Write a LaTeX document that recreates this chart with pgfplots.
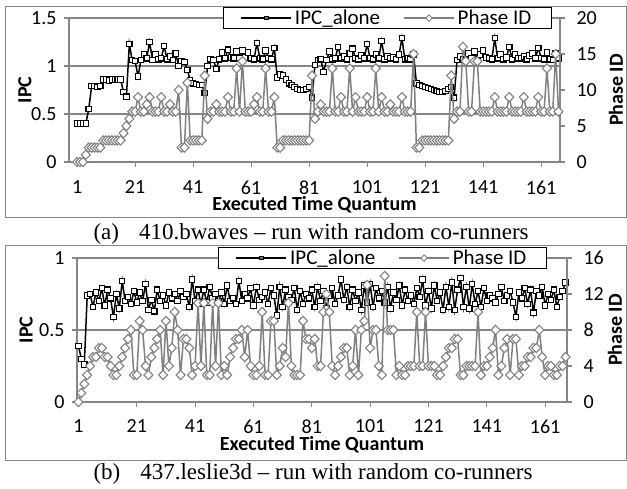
\documentclass[border=0pt]{standalone}
\usepackage{pgfplots}
\pgfplotsset{compat=1.18}
\usepackage{pgfplotstable}
\usepackage{fontspec}
\setmainfont{Carlito}
\newfontfamily\capfont{Liberation Serif}

\definecolor{axgray}{HTML}{868686}
\definecolor{phgray}{HTML}{808080}

% panel (a)
\pgfplotstableread[row sep=\\]{x y\\
1 0.40\\ 2 0.40\\ 3 0.40\\ 4 0.40\\ 5 0.55\\ 6 0.79\\ 7 0.79\\ 8 0.78\\ 9 0.79\\ 10 0.86\\
11 0.86\\ 12 0.85\\ 13 0.86\\ 14 0.86\\ 15 0.86\\ 16 0.86\\ 17 0.73\\ 18 0.68\\ 19 1.23\\ 20 1.06\\
21 1.05\\ 22 0.89\\ 23 1.06\\ 24 1.12\\ 25 1.08\\ 26 1.25\\ 27 1.06\\ 28 1.12\\ 29 1.07\\ 30 1.08\\
31 1.21\\ 32 1.07\\ 33 1.10\\ 34 1.06\\ 35 1.13\\ 36 1.00\\ 37 1.05\\ 38 1.04\\ 39 0.96\\ 40 0.85\\
41 0.82\\ 42 0.81\\ 43 0.80\\ 44 0.80\\ 45 0.72\\ 46 1.00\\ 47 1.07\\ 48 1.06\\ 49 0.97\\ 50 1.07\\
51 1.14\\ 52 1.08\\ 53 1.17\\ 54 1.09\\ 55 1.08\\ 56 1.15\\ 57 1.08\\ 58 1.16\\ 59 1.09\\ 60 1.14\\
61 1.08\\ 62 1.07\\ 63 1.24\\ 64 1.08\\ 65 1.07\\ 66 1.16\\ 67 1.08\\ 68 1.07\\ 69 1.19\\ 70 0.88\\
71 0.91\\ 72 0.90\\ 73 0.86\\ 74 0.82\\ 75 0.80\\ 76 0.78\\ 77 0.76\\ 78 0.75\\ 79 0.75\\ 80 0.76\\
81 0.78\\ 82 0.67\\ 83 1.01\\ 84 1.06\\ 85 1.07\\ 86 0.94\\ 87 1.06\\ 88 1.15\\ 89 1.07\\ 90 1.08\\
91 1.20\\ 92 1.08\\ 93 1.10\\ 94 1.07\\ 95 1.13\\ 96 1.18\\ 97 1.08\\ 98 1.07\\ 99 1.11\\ 100 1.08\\
101 1.23\\ 102 1.08\\ 103 1.07\\ 104 1.12\\ 105 1.08\\ 106 1.26\\ 107 1.07\\ 108 1.10\\ 109 1.08\\ 110 1.09\\
111 1.07\\ 112 1.12\\ 113 1.29\\ 114 1.07\\ 115 1.08\\ 116 1.07\\ 117 1.12\\ 118 0.82\\ 119 0.80\\ 120 0.79\\
121 0.78\\ 122 0.77\\ 123 0.76\\ 124 0.75\\ 125 0.74\\ 126 0.73\\ 127 0.73\\ 128 0.74\\ 129 0.76\\ 130 0.78\\
131 0.67\\ 132 1.06\\ 133 1.10\\ 134 1.07\\ 135 1.06\\ 136 1.13\\ 137 1.08\\ 138 1.15\\ 139 1.07\\ 140 1.12\\
141 1.16\\ 142 1.09\\ 143 1.08\\ 144 1.07\\ 145 1.29\\ 146 1.08\\ 147 1.12\\ 148 1.07\\ 149 1.09\\ 150 1.20\\
151 1.07\\ 152 1.12\\ 153 1.08\\ 154 1.08\\ 155 1.10\\ 156 1.07\\ 157 1.11\\ 158 1.13\\ 159 1.08\\ 160 1.19\\
161 1.08\\ 162 1.07\\ 163 1.14\\ 164 1.07\\ 165 1.06\\ 166 1.13\\ 167 1.08\\
}\ipcA

\pgfplotstableread[row sep=\\]{x y\\
1 0\\ 2 0\\ 3 0\\ 4 1\\ 5 2\\ 6 2\\ 7 2\\ 8 2\\ 9 2\\ 10 3\\
11 3\\ 12 3\\ 13 3\\ 14 3\\ 15 3\\ 16 3\\ 17 4\\ 18 5\\ 19 6\\ 20 7\\
21 7\\ 22 9\\ 23 7\\ 24 7\\ 25 8\\ 26 9\\ 27 7\\ 28 7\\ 29 7\\ 30 9\\
31 7\\ 32 7\\ 33 8\\ 34 7\\ 35 7\\ 36 10\\ 37 2\\ 38 2\\ 39 11\\ 40 3\\
41 3\\ 42 3\\ 43 3\\ 44 3\\ 45 12\\ 46 6\\ 47 7\\ 48 7\\ 49 8\\ 50 7\\
51 7\\ 52 7\\ 53 9\\ 54 7\\ 55 7\\ 56 13\\ 57 7\\ 58 14\\ 59 7\\ 60 7\\
61 7\\ 62 8\\ 63 9\\ 64 7\\ 65 7\\ 66 13\\ 67 7\\ 68 7\\ 69 9\\ 70 2\\
71 2\\ 72 3\\ 73 3\\ 74 3\\ 75 3\\ 76 3\\ 77 3\\ 78 3\\ 79 3\\ 80 3\\
81 3\\ 82 12\\ 83 6\\ 84 7\\ 85 8\\ 86 7\\ 87 7\\ 88 7\\ 89 13\\ 90 7\\
91 7\\ 92 9\\ 93 7\\ 94 7\\ 95 13\\ 96 7\\ 97 9\\ 98 7\\ 99 7\\ 100 7\\
101 9\\ 102 7\\ 103 7\\ 104 13\\ 105 7\\ 106 9\\ 107 7\\ 108 7\\ 109 8\\ 110 7\\
111 7\\ 112 7\\ 113 9\\ 114 7\\ 115 7\\ 116 7\\ 117 15\\ 118 2\\ 119 2\\ 120 3\\
121 3\\ 122 3\\ 123 3\\ 124 3\\ 125 3\\ 126 3\\ 127 3\\ 128 3\\ 129 3\\ 130 12\\
131 6\\ 132 7\\ 133 7\\ 134 16\\ 135 14\\ 136 7\\ 137 7\\ 138 14\\ 139 14\\ 140 7\\
141 7\\ 142 7\\ 143 7\\ 144 7\\ 145 9\\ 146 7\\ 147 7\\ 148 7\\ 149 7\\ 150 9\\
151 7\\ 152 7\\ 153 7\\ 154 7\\ 155 9\\ 156 7\\ 157 7\\ 158 7\\ 159 7\\ 160 9\\
161 7\\ 162 7\\ 163 13\\ 164 7\\ 165 7\\ 166 15\\ 167 7\\
}\phaseA

% panel (b)
\pgfplotstableread[row sep=\\]{x y\\
1 0.39\\ 2 0.30\\ 3 0.26\\ 4 0.74\\ 5 0.75\\ 6 0.66\\ 7 0.76\\ 8 0.70\\ 9 0.79\\ 10 0.67\\
11 0.78\\ 12 0.72\\ 13 0.59\\ 14 0.75\\ 15 0.65\\ 16 0.84\\ 17 0.70\\ 18 0.73\\ 19 0.68\\ 20 0.77\\
21 0.69\\ 22 0.76\\ 23 0.70\\ 24 0.82\\ 25 0.64\\ 26 0.71\\ 27 0.63\\ 28 0.78\\ 29 0.70\\ 30 0.74\\
31 0.67\\ 32 0.76\\ 33 0.72\\ 34 0.75\\ 35 0.70\\ 36 0.77\\ 37 0.73\\ 38 0.75\\ 39 0.66\\ 40 0.85\\
41 0.70\\ 42 0.78\\ 43 0.68\\ 44 0.78\\ 45 0.69\\ 46 0.80\\ 47 0.72\\ 48 0.75\\ 49 0.70\\ 50 0.76\\
51 0.68\\ 52 0.81\\ 53 0.70\\ 54 0.72\\ 55 0.68\\ 56 0.84\\ 57 0.70\\ 58 0.75\\ 59 0.72\\ 60 0.79\\
61 0.67\\ 62 0.80\\ 63 0.71\\ 64 0.73\\ 65 0.76\\ 66 0.68\\ 67 0.79\\ 68 0.74\\ 69 0.60\\ 70 0.80\\
71 0.66\\ 72 0.78\\ 73 0.73\\ 74 0.71\\ 75 0.79\\ 76 0.64\\ 77 0.77\\ 78 0.68\\ 79 0.75\\ 80 0.72\\
81 0.78\\ 82 0.66\\ 83 0.80\\ 84 0.70\\ 85 0.77\\ 86 0.65\\ 87 0.74\\ 88 0.79\\ 89 0.68\\ 90 0.74\\
91 0.85\\ 92 0.71\\ 93 0.80\\ 94 0.66\\ 95 0.78\\ 96 0.70\\ 97 0.76\\ 98 0.64\\ 99 0.81\\ 100 0.69\\
101 0.82\\ 102 0.66\\ 103 0.79\\ 104 0.72\\ 105 0.77\\ 106 0.69\\ 107 0.80\\ 108 0.65\\ 109 0.76\\ 110 0.71\\
111 0.81\\ 112 0.67\\ 113 0.78\\ 114 0.70\\ 115 0.74\\ 116 0.68\\ 117 0.79\\ 118 0.73\\ 119 0.85\\ 120 0.67\\
121 0.77\\ 122 0.65\\ 123 0.81\\ 124 0.70\\ 125 0.76\\ 126 0.64\\ 127 0.80\\ 128 0.66\\ 129 0.83\\ 130 0.64\\
131 0.78\\ 132 0.86\\ 133 0.66\\ 134 0.80\\ 135 0.65\\ 136 0.82\\ 137 0.68\\ 138 0.77\\ 139 0.66\\ 140 0.79\\
141 0.70\\ 142 0.74\\ 143 0.72\\ 144 0.69\\ 145 0.75\\ 146 0.80\\ 147 0.70\\ 148 0.74\\ 149 0.77\\ 150 0.69\\
151 0.59\\ 152 0.76\\ 153 0.72\\ 154 0.79\\ 155 0.68\\ 156 0.78\\ 157 0.62\\ 158 0.77\\ 159 0.74\\ 160 0.80\\
161 0.67\\ 162 0.75\\ 163 0.71\\ 164 0.78\\ 165 0.66\\ 166 0.73\\ 167 0.77\\ 168 0.83\\
}\ipcB

\pgfplotstableread[row sep=\\]{x y\\
1 0\\ 2 1\\ 3 2\\ 4 3\\ 5 4\\ 6 5\\ 7 5\\ 8 6\\ 9 6\\ 10 5\\
11 5\\ 12 4\\ 13 3\\ 14 3\\ 15 4\\ 16 5\\ 17 6\\ 18 7\\ 19 8\\ 20 3\\
21 3\\ 22 9\\ 23 8\\ 24 4\\ 25 3\\ 26 5\\ 27 6\\ 28 7\\ 29 8\\ 30 3\\
31 9\\ 32 4\\ 33 6\\ 34 10\\ 35 8\\ 36 3\\ 37 7\\ 38 7\\ 39 6\\ 40 3\\
41 4\\ 42 11\\ 43 4\\ 44 11\\ 45 3\\ 46 3\\ 47 11\\ 48 4\\ 49 11\\ 50 3\\
51 4\\ 52 3\\ 53 5\\ 54 6\\ 55 7\\ 56 7\\ 57 8\\ 58 5\\ 59 8\\ 60 4\\
61 3\\ 62 3\\ 63 4\\ 64 10\\ 65 3\\ 66 3\\ 67 9\\ 68 9\\ 69 3\\ 70 4\\
71 6\\ 72 5\\ 73 11\\ 74 4\\ 75 3\\ 76 3\\ 77 3\\ 78 9\\ 79 7\\ 80 7\\
81 6\\ 82 7\\ 83 4\\ 84 4\\ 85 10\\ 86 12\\ 87 10\\ 88 4\\ 89 3\\ 90 4\\
91 5\\ 92 6\\ 93 6\\ 94 3\\ 95 4\\ 96 8\\ 97 3\\ 98 8\\ 99 9\\ 100 13\\
101 6\\ 102 8\\ 103 8\\ 104 4\\ 105 3\\ 106 14\\ 107 8\\ 108 8\\ 109 8\\ 110 3\\
111 4\\ 112 3\\ 113 3\\ 114 4\\ 115 4\\ 116 4\\ 117 10\\ 118 4\\ 119 4\\ 120 10\\
121 4\\ 122 4\\ 123 4\\ 124 3\\ 125 3\\ 126 4\\ 127 5\\ 128 6\\ 129 6\\ 130 7\\
131 7\\ 132 3\\ 133 3\\ 134 4\\ 135 4\\ 136 4\\ 137 4\\ 138 10\\ 139 3\\ 140 4\\
141 4\\ 142 5\\ 143 6\\ 144 8\\ 145 3\\ 146 4\\ 147 6\\ 148 7\\ 149 3\\ 150 7\\
151 7\\ 152 3\\ 153 4\\ 154 4\\ 155 5\\ 156 5\\ 157 6\\ 158 6\\ 159 8\\ 160 5\\
161 3\\ 162 4\\ 163 4\\ 164 3\\ 165 3\\ 166 4\\ 167 4\\ 168 5\\
}\phaseB

\pgfplotsset{
  ipcline/.style={black, line width=1.5pt, mark=square*, mark size=2.7pt,
    mark options={solid, fill=white, draw=black, line width=1.1pt}},
  phaseline/.style={phgray, line width=1.5pt, mark=diamond*, mark size=4.6pt,
    mark options={solid, fill=white, draw=phgray, line width=1.1pt, xscale=1.3}},
  panel/.style={
    scale only axis, anchor=south west,
    axis line style={draw=axgray, line width=1.2pt},
    tick style={draw=axgray, line width=1.2pt},
    tick align=outside, major tick length=5pt,
    /pgf/number format/assume math mode=true,
    tick label style={font=\fontsize{20}{24}\selectfont},
    xtick={1,21,...,161},
    clip=false,
  },
  every axis legend/.append style={
    legend columns=2, draw=black, line width=1pt, fill=white,
    font=\fontsize{21}{24}\selectfont, inner xsep=17pt, inner ysep=1pt,
    nodes={inner xsep=3pt, inner ysep=1.5pt},
    /tikz/every even column/.append style={column sep=20pt},
  },
  legend image code/.code={\draw[mark repeat=2, mark phase=2, #1]
    plot coordinates {(0pt,0pt) (25pt,0pt) (50pt,0pt)};},
  legipc/.style={ipcline, mark size=1.7pt, mark options={solid, fill=black!60, draw=black, line width=0.8pt}},
  legphase/.style={phaseline, mark size=3.2pt, mark options={solid, fill=white, draw=phgray, line width=0.9pt, xscale=1.3}},
}

\begin{document}
\begin{tikzpicture}
\path[use as bounding box] (0pt,0pt) rectangle (627pt,488pt);
\draw[axgray, line width=1pt] (5pt,270pt) rectangle (626pt,481pt);
\draw[axgray, line width=1pt] (5pt,28pt) rectangle (626pt,242pt);

% ---------- (a) ----------
\begin{axis}[panel, at={(69pt,326pt)}, width=491pt, height=144pt,
  xmin=-1.8, xmax=167.5, ymin=0, ymax=1.5, ytick={0,0.5,1,1.5},
  axis x line*=bottom, axis y line*=left,
  ymajorgrids, major grid style={draw=axgray, line width=1.2pt},
  xlabel={Executed Time Quantum}, ylabel={IPC},
  every axis x label/.style={at={(axis description cs:0.5,-0.3)}, anchor=center,
    font=\bfseries\fontsize{20}{24}\selectfont},
  every axis y label/.style={at={(axis description cs:-0.09,0.5)}, rotate=90, anchor=center,
    font=\bfseries\fontsize{20}{24}\selectfont},
  xticklabel style={yshift=-10pt}, yticklabel style={xshift=-4pt},
]
\addplot[ipcline] table {\ipcA};
\end{axis}
\begin{axis}[panel, at={(69pt,326pt)}, width=491pt, height=144pt,
  xmin=-1.8, xmax=167.5, ymin=0, ymax=20, ytick={0,5,...,20},
  axis y line*=right, axis x line=none,
  ylabel={Phase ID},
  every axis y label/.style={at={(axis description cs:1.114,0.5)}, rotate=90, anchor=center,
    font=\bfseries\fontsize{20}{24}\selectfont},
  yticklabel style={xshift=8pt},
  legend style={at={(0.3136,1.076)}, anchor=north west},
]
\addlegendimage{legipc}
\addlegendentry{IPC\_alone}
\addlegendimage{legphase}
\addlegendentry{Phase ID}
\addplot[phaseline, forget plot] table {\phaseA};
\end{axis}
\node[font=\capfont\fontsize{23}{26}\selectfont, anchor=west] at (90pt,254pt)
  {(a)\hspace{20pt}410.bwaves – run with random co-runners};

% ---------- (b) ----------
\begin{axis}[panel, at={(77pt,86pt)}, width=490pt, height=144pt,
  xmin=0.5, xmax=168.5, ymin=0, ymax=1, ytick={0,0.5,1},
  axis x line*=bottom, axis y line*=left,
  ymajorgrids, major grid style={draw=axgray, line width=1.2pt},
  xlabel={Executed Time Quantum}, ylabel={IPC},
  every axis x label/.style={at={(axis description cs:0.5,-0.3)}, anchor=center,
    font=\bfseries\fontsize{20}{24}\selectfont},
  every axis y label/.style={at={(axis description cs:-0.104,0.5)}, rotate=90, anchor=center,
    font=\bfseries\fontsize{20}{24}\selectfont},
  xticklabel style={yshift=-9pt}, yticklabel style={xshift=-4pt},
]
\addplot[ipcline] table {\ipcB};
\end{axis}
\begin{axis}[panel, at={(77pt,86pt)}, width=490pt, height=144pt,
  xmin=0.5, xmax=168.5, ymin=0, ymax=16, ytick={0,4,...,16},
  axis y line*=right, axis x line=none,
  ylabel={Phase ID},
  every axis y label/.style={at={(axis description cs:1.098,0.5)}, rotate=90, anchor=center,
    font=\bfseries\fontsize{20}{24}\selectfont},
  yticklabel style={xshift=8pt},
  legend style={at={(0.288,1.076)}, anchor=north west},
]
\addlegendimage{legipc}
\addlegendentry{IPC\_alone}
\addlegendimage{legphase}
\addlegendentry{Phase ID}
\addplot[phaseline, forget plot] table {\phaseB};
\end{axis}
\node[font=\capfont\fontsize{23}{26}\selectfont, anchor=west] at (90pt,14pt)
  {(b)\hspace{20pt}437.leslie3d – run with random co-runners};
\end{tikzpicture}
\end{document}
